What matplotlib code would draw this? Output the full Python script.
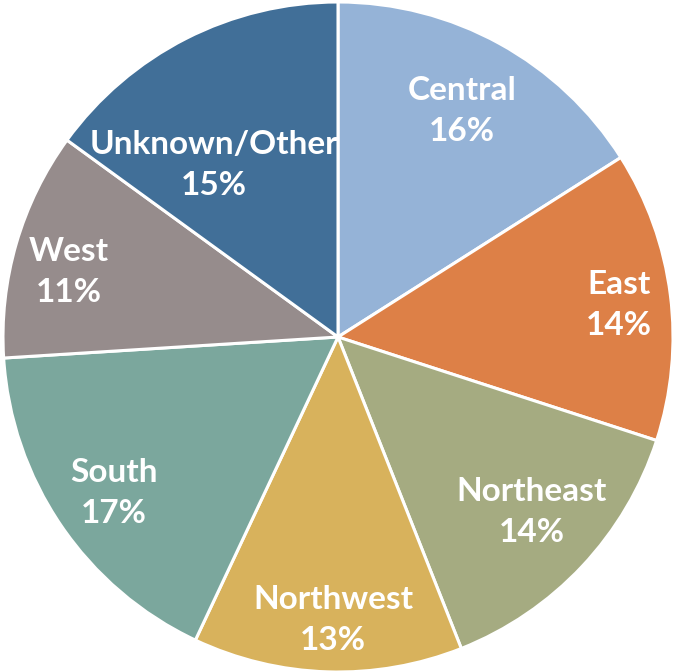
import numpy as np
import matplotlib
matplotlib.use("Agg")
import matplotlib.pyplot as plt

# region shares, clockwise from 12 o'clock
regions = ["Central", "East", "Northeast", "Northwest", "South", "West", "Unknown/Other"]
shares = [16, 14, 14, 13, 17, 11, 15]
colors = ["#95B3D7", "#DD8047", "#A5AB81", "#D8B25C", "#7BA79D", "#968C8C", "#416F98"]
# excel "best fit" spots: radius fraction and angle nudge (deg)
label_dist = [0.77, 0.845, 0.78, 0.845, 0.815, 0.826, 0.633]
label_nudge = [0, -0.7, 1.1, 0.8, 0.7, 2.6, 8.8]

plt.rcParams['font.family'] = ['Lato', 'DejaVu Sans']

fig = plt.figure(figsize=(6.73, 6.72), dpi=100)
ax = fig.add_axes([3 / 673, 0 / 672, 670 / 673, 670 / 672])

wedges, _ = ax.pie(shares, colors=colors, startangle=90, counterclock=False,
                   radius=1, labels=None,
                   wedgeprops=dict(edgecolor="white", linewidth=2.2))

for w, name, val, d, nd in zip(wedges, regions, shares, label_dist, label_nudge):
    mid = np.deg2rad((w.theta1 + w.theta2) / 2 + nd)
    x, y = d * np.cos(mid), d * np.sin(mid)
    t = ax.text(x, y, f"{name}\n{val}%", ha="center", va="center",
                color="white", fontsize=24, fontweight="bold",
                linespacing=1.5, clip_on=True)
    t.set_clip_path(w)

ax.set_xlim(-1, 1)
ax.set_ylim(-1, 1)
ax.set_aspect("equal")
ax.axis("off")

fig.savefig("out.png", dpi=100)
